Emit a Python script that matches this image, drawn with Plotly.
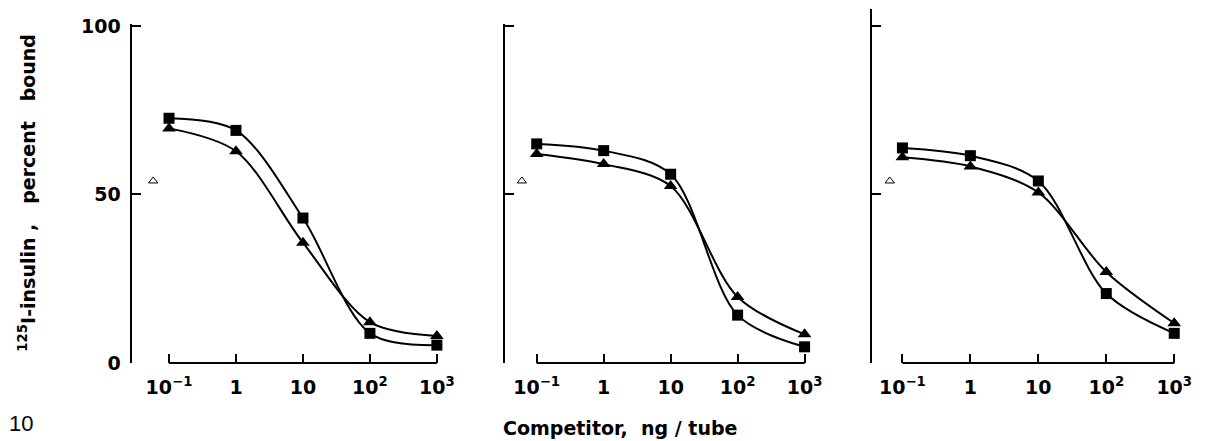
import math
import plotly.graph_objects as go

# ---- data ----
competitor_ng = [0.1, 1, 10, 100, 1000]
tick_text = ["10<sup>−1</sup>", "1", "10", "10<sup>2</sup>", "10<sup>3</sup>"]
y_ticks = [0, 50, 100]

squares = [
    [72.6, 69.0, 43.0, 8.8, 5.3],
    [65.0, 63.0, 56.0, 14.2, 4.8],
    [63.8, 61.5, 54.0, 20.6, 8.8],
]
triangles = [
    [69.6, 62.8, 35.7, 12.1, 8.0],
    [62.0, 59.0, 52.5, 19.6, 8.5],
    [61.0, 58.3, 50.6, 27.0, 11.8],
]
open_tri_x = [0.058, 0.060, 0.065]
open_tri_y = [54.0, 54.0, 54.0]

y_title = "<sup>125</sup>I-insulin ,   percent   bound"
x_title = "Competitor,  ng / tube"
fig_label = "10"

# ---- layout geometry (pixels) ----
W, H = 1209, 441
TOP, BOTTOM = 7, 363            # pixel rows: panel-3 axis top, y=0
PX_PER_UNIT = (363 - 24) / 100.0
axis_top_px = [22, 22, 7]
# (y-axis x pixel, pixel of 0.1, pixel of 1000)
xgeo = [(134, 171, 442), (511, 543, 814), (882, 913, 1188)]
EXTRA = 0.05  # decades of padding at right

FONT = "DejaVu Sans"

fig = go.Figure()
shapes = []
for i in range(3):
    n = i + 1
    xa = "x" if n == 1 else f"x{n}"
    ya = "y" if n == 1 else f"y{n}"
    yax, p01, p1000 = xgeo[i]
    dec = (p1000 - p01) / 4.0
    lo = math.log10(competitor_ng[0]) - (p01 - yax) / dec
    hi = math.log10(competitor_ng[-1]) + EXTRA
    right_px = p1000 + EXTRA * dec
    ytop = (BOTTOM - axis_top_px[i]) / PX_PER_UNIT
    ydom_top = (BOTTOM - axis_top_px[i]) / (BOTTOM - TOP)

    fig.add_trace(go.Scatter(
        x=competitor_ng, y=squares[i], mode="lines+markers",
        line=dict(color="black", width=2, shape="spline", smoothing=0.9),
        marker=dict(symbol="square", size=11, color="black"),
        xaxis=xa, yaxis=ya, cliponaxis=False, showlegend=False))
    fig.add_trace(go.Scatter(
        x=competitor_ng, y=triangles[i], mode="lines+markers",
        line=dict(color="black", width=2, shape="spline", smoothing=0.9),
        marker=dict(symbol="triangle-up", size=12, color="black"),
        xaxis=xa, yaxis=ya, cliponaxis=False, showlegend=False))
    fig.add_trace(go.Scatter(
        x=[open_tri_x[i]], y=[open_tri_y[i]], mode="markers",
        marker=dict(symbol="triangle-up-open", size=8, color="black",
                    line=dict(width=1, color="black")),
        xaxis=xa, yaxis=ya, cliponaxis=False, showlegend=False))

    xkey = "xaxis" if n == 1 else f"xaxis{n}"
    ykey = "yaxis" if n == 1 else f"yaxis{n}"
    fig.layout[xkey] = dict(
        type="log", domain=[yax / W, right_px / W], range=[lo, hi],
        anchor=ya, showgrid=False, zeroline=False, showline=False,
        ticks="inside", ticklen=9, tickwidth=2, tickcolor="black",
        tickvals=competitor_ng, ticktext=tick_text,
        tickfont=dict(family=FONT, size=19, color="black", weight="bold"),
        ticklabelstandoff=11)
    fig.layout[ykey] = dict(
        domain=[0, ydom_top], range=[0, ytop], anchor=xa,
        showgrid=False, zeroline=False, showline=True, linewidth=2,
        linecolor="black", ticks="inside", ticklen=9, tickwidth=2,
        tickcolor="black", tickvals=y_ticks,
        showticklabels=(n == 1),
        tickfont=dict(family=FONT, size=19, color="black", weight="bold"),
        ticklabelstandoff=6)
    # detached x-axis line from 0.1 to 1000
    f0 = (math.log10(competitor_ng[0]) - lo) / (hi - lo)
    f1 = (math.log10(competitor_ng[-1]) - lo) / (hi - lo)
    shapes.append(dict(type="line", xref=f"{xa} domain", yref=f"{ya} domain",
                       x0=f0, x1=f1, y0=0, y1=0,
                       line=dict(color="black", width=2)))

fig.update_layout(
    width=W, height=H, margin=dict(l=0, r=0, t=TOP, b=H - BOTTOM),
    paper_bgcolor="white", plot_bgcolor="white", shapes=shapes,
    annotations=[
        dict(text=y_title, textangle=-90, xref="paper", yref="paper",
             x=27 / W, y=(H - 192 - (H - BOTTOM)) / (BOTTOM - TOP),
             showarrow=False, xanchor="center", yanchor="middle",
             font=dict(family=FONT, size=19, color="black", weight="bold")),
        dict(text=x_title, xref="paper", yref="paper",
             x=627 / W, y=-(428 - BOTTOM) / (BOTTOM - TOP),
             showarrow=False, xanchor="center", yanchor="middle",
             font=dict(family=FONT, size=19, color="black", weight="bold")),
        dict(text=fig_label, xref="paper", yref="paper",
             x=7 / W, y=-(424 - BOTTOM) / (BOTTOM - TOP),
             showarrow=False, xanchor="left", yanchor="middle",
             font=dict(family="Liberation Sans", size=22, color="black")),
    ],
)

fig.write_html("out.html")
